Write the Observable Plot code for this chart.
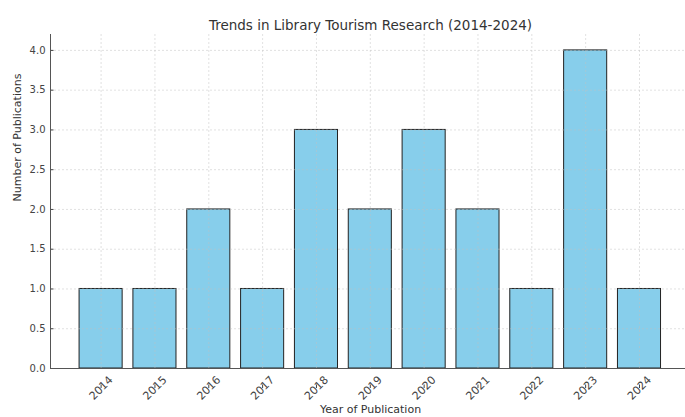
<!DOCTYPE html>
<html><head><meta charset="utf-8">
<script src="https://cdn.jsdelivr.net/npm/d3@7"></script>
<script src="https://cdn.jsdelivr.net/npm/@observablehq/plot@0.6"></script>
<style>body{margin:0;background:#fff;}</style>
</head><body><div id="chart"></div>
<script>
const years = [2014, 2015, 2016, 2017, 2018, 2019, 2020, 2021, 2022, 2023, 2024];
const counts = [1, 1, 2, 1, 3, 2, 3, 2, 1, 4, 1];
const yTicks = [0, 0.5, 1, 1.5, 2, 2.5, 3, 3.5, 4];
const titleText = "Trends in Library Tourism Research (2014-2024)";
const xLabel = "Year of Publication";
const yLabel = "Number of Publications";

const data = years.map((year, i) => ({year, count: counts[i]}));
const xMin = 2013.06, xMax = 2024.94;
const gridStyle = {stroke: "#c0c0c0", strokeOpacity: 0.8, strokeDasharray: "2,2", strokeWidth: 0.6};

const chart = Plot.plot({
  width: 685, height: 417,
  marginLeft: 50, marginRight: 0, marginTop: 34, marginBottom: 49,
  style: {fontFamily: "DejaVu Sans", fontSize: "10px", background: "#fff", color: "#333", overflow: "visible"},
  x: {type: "linear", domain: [xMin, xMax], range: [50, 689.6]},
  y: {domain: [0, 4.2]},
  marks: [
    Plot.rect(data, {x1: d => d.year - 0.4, x2: d => d.year + 0.4, y1: () => 0, y2: "count", fill: "#87CEEB", stroke: "#222", strokeWidth: 1}),
    Plot.gridX(years, gridStyle),
    Plot.gridY(yTicks, gridStyle),
    Plot.axisY(yTicks, {tickFormat: d3.format(".1f"), tickSize: -3.5, tickPadding: 8.5, label: null, color: "#444"}),
    Plot.axisX(years, {tickFormat: d => String(d), tickRotate: -45, textAnchor: "middle", lineAnchor: "middle", dy: 20, tickSize: -3.5, tickPadding: 3, fontSize: 11, label: null, color: "#444"}),
    Plot.ruleY([0], {stroke: "#555", strokeWidth: 1}),
    Plot.ruleX([xMin], {stroke: "#555", strokeWidth: 1}),
    Plot.text([titleText], {frameAnchor: "top", dx: 2.5, dy: -14, fontSize: 13.5, fill: "#333"}),
    Plot.text([xLabel], {frameAnchor: "bottom", dx: 2.5, dy: 44, fontSize: 11, fill: "#333"}),
    Plot.text([yLabel], {frameAnchor: "left", rotate: -90, dx: -33, fontSize: 11, fill: "#333"})
  ]
});
document.getElementById("chart").appendChild(chart);
</script>
</body></html>
